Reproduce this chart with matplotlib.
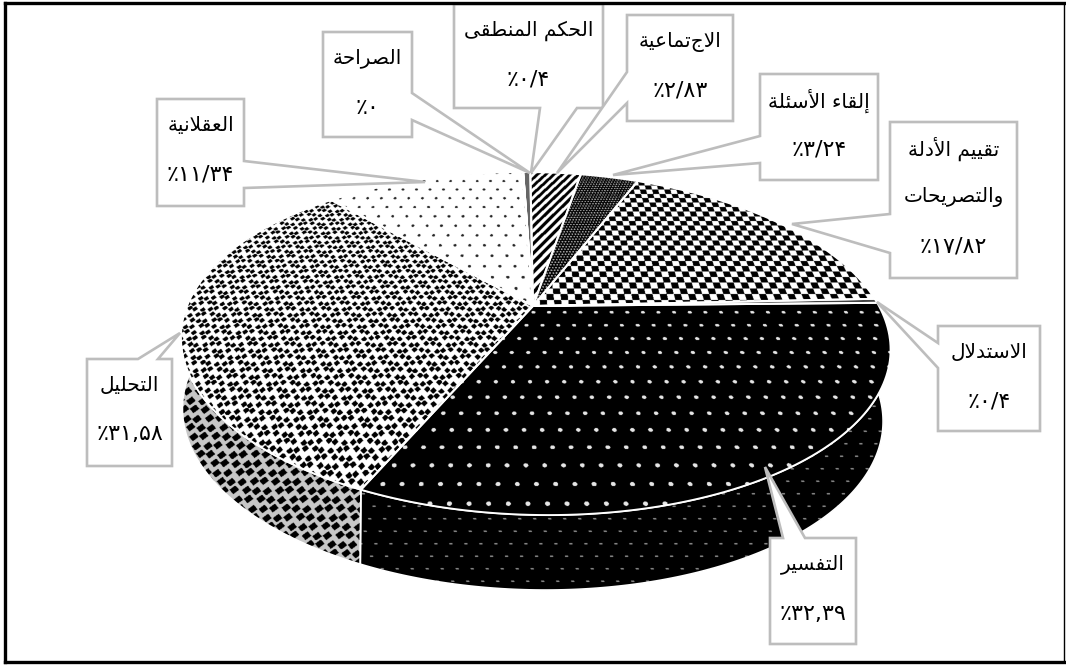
import numpy as np
import matplotlib
matplotlib.use("Agg")
import matplotlib.pyplot as plt
from matplotlib.path import Path
from matplotlib.patches import Polygon
from matplotlib.transforms import Transform

# ---------- data ----------
categories = ["الحكم المنطقى", "الاجتماعية", "إلقاء الأسئلة", "تقييم الأدلة\nوالتصريحات",
              "الاستدلال", "التفسير", "التحليل", "العقلانية", "الصراحة"]
values = [0.4, 2.83, 3.24, 17.82, 0.4, 32.39, 31.58, 11.34, 0.0]
value_labels = ["٪۰/۴", "٪۲/۸۳", "٪۳/۲۴", "٪۱۷/۸۲", "٪۰/۴", "٪۳۲,۳۹", "٪۳۱,۵۸", "٪۱۱/۳۴", "٪۰"]

# ---------- layout ----------
W, H = 1066, 665
# callouts: box (x0, y0, x1, y1), pointer side, pointer base a, b, tip
callouts = [
    ((454, 4, 603, 108), "b", 540, 577, (531, 173)),
    ((627, 15, 733, 121), "l", 72, 103, (557, 173)),
    ((760, 74, 878, 180), "l", 136, 163, (613, 175)),
    ((890, 122, 1017, 278), "l", 214, 253, (792, 224)),
    ((938, 326, 1040, 431), "l", 343, 368, (877, 302)),
    ((770, 538, 856, 644), "t", 783, 805, (765, 467)),
    ((87, 359, 172, 466), "t", 138, 158, (180, 333)),
    ((157, 99, 244, 206), "r", 161, 188, (425, 182)),
    ((323, 32, 412, 137), "r", 93, 120, (530, 173)),
]
TOP = dict(cx=533.0, cy=306.0, a=346.0, b=163.3, k=0.219, s=-12.0)
SIDE = dict(cx=530.0, cy=376.7, a=341.6, b=166.6, k=0.219, s=-12.0)

# ---------- Arabic shaping (matplotlib draws glyphs left to right, unshaped) ----------
FOUR = {"ئ": 0xFE89, "ب": 0xFE8F, "ت": 0xFE95, "ح": 0xFEA1, "س": 0xFEB1, "ص": 0xFEB9,
        "ط": 0xFEC1, "ع": 0xFEC9, "ف": 0xFED1, "ق": 0xFED5, "ك": 0xFED9, "ل": 0xFEDD,
        "م": 0xFEE1, "ن": 0xFEE5, "ي": 0xFEF1}
TWO = {"أ": 0xFE83, "إ": 0xFE87, "ا": 0xFE8D, "ة": 0xFE93, "د": 0xFEA9, "ر": 0xFEAD,
       "و": 0xFEED, "ى": 0xFEEF}
LIG = {"ا": 0xFEFB, "أ": 0xFEF7, "إ": 0xFEF9}


def shape(s):
    out = []
    i = 0
    prev_joins = False
    while i < len(s):
        c = s[i]
        nxt = s[i + 1] if i + 1 < len(s) else ""
        if c == "ل" and nxt and nxt in LIG:
            out.append(chr(LIG[nxt] + (1 if prev_joins else 0)))
            prev_joins = False
            i += 2
            continue
        if c in FOUR:
            joins_next = bool(nxt) and (nxt in FOUR or nxt in TWO)
            base = FOUR[c]
            if prev_joins and joins_next:
                out.append(chr(base + 3))
            elif prev_joins:
                out.append(chr(base + 1))
            elif joins_next:
                out.append(chr(base + 2))
            else:
                out.append(chr(base))
            prev_joins = joins_next
        elif c in TWO:
            out.append(chr(TWO[c] + (1 if prev_joins else 0)))
            prev_joins = False
        elif c == "ء":
            out.append(chr(0xFE80))
            prev_joins = False
        else:
            out.append(c)
            prev_joins = False
        i += 1
    return "".join(reversed(out))


# ---------- perspective mapping of the unit pie onto the page ----------
class Tilt(Transform):
    input_dims = output_dims = 2
    is_separable = False
    has_inverse = False

    def __init__(self, cx, cy, a, b, k, s):
        super().__init__()
        self.p = (cx, cy, a, b, k, s)

    def transform_non_affine(self, xy):
        xy = np.asarray(xy, float)
        cx, cy, a, b, k, s = self.p
        w = 1 + k * xy[:, 1]
        return np.column_stack([cx + (a * xy[:, 0] + s * xy[:, 1]) / w, cy - b * xy[:, 1] / w])

    def transform_path_non_affine(self, path):
        pts = []
        for seg, code in path.iter_bezier():
            if code == Path.MOVETO:
                pts.append(seg.control_points[0])
            else:
                ts = np.linspace(0, 1, 25)[1:]
                pts.extend(seg(ts))
        pts = np.array(pts)
        return Path(self.transform_non_affine(pts), closed=True)


SS = 2
Xs, Ys = np.meshgrid((np.arange(W * SS) + 0.5) / SS, (np.arange(H * SS) + 0.5) / SS)


def uv_grid(p):
    cx, cy, a, b, k, s = p["cx"], p["cy"], p["a"], p["b"], p["k"], p["s"]
    Y = (cy - Ys) / b
    w = 1 / (1 - k * Y)
    v = Y * w
    u = ((Xs - cx) * w - s * v) / a
    return u * a, v * b


def stag(A, B, sx, sy, rx, ry, jit=0.0, diamond=False):
    row = np.floor(B / sy)
    odd = row % 2
    col = np.floor(A / sx + odd * 0.5)
    dx = ((A / sx + odd * 0.5) % 1 - 0.5) * sx
    dy = ((B / sy) % 1 - 0.5) * sy
    if jit:
        dx = dx + jit * np.sin(row * 1.7 + col * 2.3)
        dy = dy + jit * np.sin(row * 2.9 - col * 1.3)
    if diamond:
        return np.abs(dx) / rx + np.abs(dy) / ry < 1
    return (dx / rx) ** 2 + (dy / ry) ** 2 < 1


P, Q = uv_grid(TOP)

top_tex = [
    None,
    ((P - Q) / 10.0 % 1 < 0.5) * 1.0,
    stag(P, Q, 3.4, 3.0, 1.0, 0.9) * 0.7,
    ((np.floor(P / 7.2) + np.floor(Q / 6.0)) % 2 == 0) * 1.0,
    None,
    stag(P, Q, 15.5, 12.5, 2.0, 1.4) * 0.9,
    1.0 - stag(P, Q, 7.0, 5.6, 3.0, 2.6, jit=1.0, diamond=True) * 1.0,
    1.0 - stag(P, Q, 16.0, 12.0, 1.7, 1.5) * 0.85,
    None,
]
side_tex = {
    5: stag(Xs - 0.25 * Ys, Ys, 15.0, 12.5, 1.7, 1.0) * 0.55,
    6: 0.78 - stag(Xs + 0.25 * Ys, Ys, 11.0, 9.0, 4.8, 4.4, jit=0.8, diamond=True) * 0.78,
}
base_col = ["#666666", "white", "black", "white", "#444444", "black", "white", "white", "white"]

# ---------- figure ----------
plt.rcParams["font.family"] = ["DejaVu Sans"]
fig = plt.figure(figsize=(W / 100, H / 100), dpi=100)
ax = fig.add_axes([0, 0, 1, 1])

wedges, _ = ax.pie(values, startangle=90, counterclock=False, colors=base_col,
                   wedgeprops=dict(linewidth=0))
outline, _ = ax.pie(values, startangle=90, counterclock=False, colors=["none"] * len(values),
                    wedgeprops=dict(linewidth=1.4, edgecolor="white"))
ax.set_aspect("auto")
ax.set_xlim(0, W)
ax.set_ylim(H, 0)
ax.set_axis_off()

top_tf = Tilt(**TOP)
side_tf = Tilt(**SIDE)


def show_texture(tex, clip, z):
    im = ax.imshow(tex, cmap="gray", vmin=0, vmax=1, extent=(0, W, H, 0), aspect="auto",
                   interpolation="antialiased", zorder=z)
    im.set_clip_path(clip)


# side wall
for i, wd in enumerate(wedges):
    th = np.radians(np.linspace(wd.theta1, wd.theta2, 160))
    rim = np.column_stack([np.cos(th), np.sin(th)])
    t = top_tf.transform_non_affine(rim)
    s = side_tf.transform_non_affine(rim)[::-1]
    poly_xy = np.vstack([t, s])
    col = {5: "black", 6: "#c7c7c7"}.get(i, base_col[i])
    poly = Polygon(poly_xy, closed=True, facecolor=col, edgecolor="none", zorder=1)
    ax.add_patch(poly)
    if i in side_tex:
        show_texture(side_tex[i], poly, 1.5)
    edge = Polygon(poly_xy, closed=True, facecolor="none", edgecolor="white", lw=1.2, zorder=1.8)
    ax.add_patch(edge)

# pie top
for i, (wd, ol) in enumerate(zip(wedges, outline)):
    wd.set_transform(top_tf + ax.transData)
    wd.set_zorder(2)
    ol.set_transform(top_tf + ax.transData)
    ol.set_zorder(4)
    if top_tex[i] is not None and values[i] > 0:
        show_texture(top_tex[i], wd, 3)

ax.set_xlim(0, W)
ax.set_ylim(H, 0)

# callouts
GREY = "#bdbdbd"
for (box, side, a, b, tip), name, val in zip(callouts, categories, value_labels):
    x0, y0, x1, y1 = box
    if side == "l":
        pts = [(x0, y0), (x1, y0), (x1, y1), (x0, y1), (x0, b), tip, (x0, a)]
    elif side == "r":
        pts = [(x0, y0), (x1, y0), (x1, a), tip, (x1, b), (x1, y1), (x0, y1)]
    elif side == "t":
        pts = [(x0, y0), (a, y0), tip, (b, y0), (x1, y0), (x1, y1), (x0, y1)]
    else:
        pts = [(x0, y0), (x1, y0), (x1, y1), (b, y1), tip, (a, y1), (x0, y1)]
    ax.add_patch(Polygon(pts, closed=True, facecolor="white", edgecolor=GREY, lw=1.9,
                         joinstyle="miter", zorder=6))
    names = [shape(t) for t in name.split("\n")]
    cx = (x0 + x1) / 2
    for j, line in enumerate(names):
        ax.text(cx, y0 + 26.5 + 48.5 * j, line, ha="center", va="center",
                fontsize=14.5, color="black", zorder=7)
    ax.text(cx, y0 + 27 + 48.5 * len(names), val, ha="center", va="center",
            fontsize=16, color="black", zorder=7)

# page frame
frame = dict(color="black", solid_capstyle="projecting", zorder=8)
ax.plot([5, 1064], [3, 3], lw=2.4, **frame)
ax.plot([5, 5], [3, 661.5], lw=2.4, **frame)
ax.plot([5, 1064], [661.5, 661.5], lw=2.4, **frame)
ax.plot([1064, 1064], [3, 661.5], lw=1.0, **frame)
ax.set_xlim(0, W)
ax.set_ylim(H, 0)

fig.savefig("out.png", dpi=100)
